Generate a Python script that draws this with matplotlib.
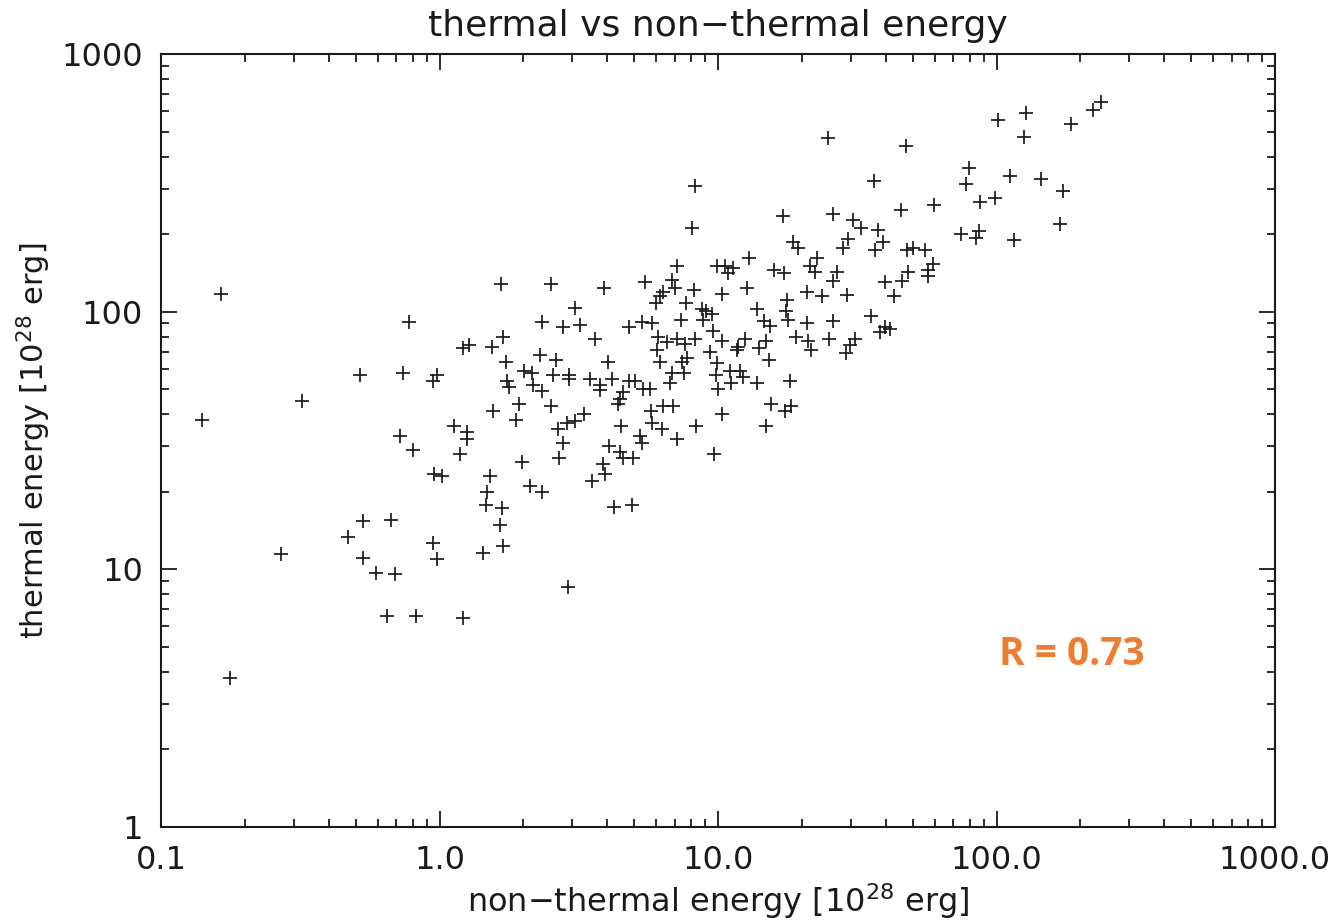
import numpy as np
import matplotlib.pyplot as plt
from matplotlib.ticker import FixedLocator, LogLocator, NullFormatter

# non-thermal energy [1e28 erg]
e_nonth = [
    0.164, 0.78, 0.52, 0.74, 0.98, 0.95, 0.32, 0.14, 0.72, 0.80, 0.955, 0.53,
    0.67, 0.47, 0.27, 0.53, 0.59, 0.69, 0.95, 0.98, 0.65, 0.82, 0.177,
    1.66, 2.51, 3.9, 3.07, 2.33, 2.78, 3.2, 3.62, 4.8, 1.69, 1.28, 1.21,
    1.54, 2.3, 2.62, 1.73, 4.03, 2.01, 2.15, 2.56, 2.92, 2.92, 3.47, 4.16,
    4.8, 1.75, 1.78, 2.17, 2.33, 3.77, 3.77, 4.56, 4.45, 4.38, 1.93, 2.51,
    1.56, 1.88, 3.3, 3.07, 2.87, 2.66, 1.13, 1.25, 1.25, 2.78, 4.49, 4.06,
    1.18, 2.69, 4.45, 4.56, 3.87, 3.93, 3.53, 1.98, 1.02, 1.52, 1.48, 2.11,
    2.33, 1.47, 1.68, 4.23, 1.65, 1.43, 1.69, 2.89, 1.21,
    8.3, 8.07, 17.1, 18.6, 19.4, 12.9, 22.7, 7.13, 9.92, 10.6, 11.3, 10.9,
    15.9, 17.3, 21.4, 22.3, 5.47, 6.84, 7.0, 6.35, 6.19, 5.99, 8.2, 10.3,
    12.7, 7.68, 17.7, 17.5, 17.8, 20.9, 8.76, 9.06, 9.52, 8.84, 7.36, 13.8,
    14.6, 15.4, 20.9, 5.34, 5.8, 9.6, 6.09, 7.13, 6.56, 7.61, 8.27, 10.3,
    12.5, 11.8, 11.7, 14.9, 14.0, 19.1, 21.1, 21.6, 6.04, 9.36, 7.74, 7.43,
    6.19, 9.92, 15.3,
    6.84, 7.55, 6.73, 5.04, 5.38, 5.7, 9.84, 11.0, 12.0, 12.3, 11.1, 10.0,
    13.8, 18.1, 15.5, 18.3, 17.4, 5.75, 6.35, 6.9, 10.3, 5.8, 6.3, 8.34,
    14.9, 5.25, 5.34, 7.13, 4.95, 9.67, 4.91,
    24.8, 47.3, 36.3, 101, 128, 126, 185, 222, 237, 79.7, 77.7, 112, 144,
    173, 87.3, 98.8, 169, 74.6, 86.6, 84.5, 116, 59.7, 45.4, 25.9, 30.5,
    32.6, 37.6, 29.3, 28.1, 39.1, 36.6, 47.7, 50.1, 55.4, 26.8, 25.9, 59.2,
    56.8, 56.8, 48.1, 45.8, 39.8,
    23.6, 29.1, 42.9, 35.4, 39.8, 38.2, 41.5, 25.9, 25.0, 31.0, 29.8, 28.8,
]

# thermal energy [1e28 erg]
e_th = [
    117, 91, 57, 58, 57, 54, 45, 38, 33, 29, 23.5, 15.4,
    15.5, 13.4, 11.5, 11.1, 9.7, 9.6, 12.7, 11.0, 6.6, 6.6, 3.8,
    128, 128, 123, 103, 91, 87, 89, 78, 87, 80, 74, 72,
    73, 68, 65, 64, 64, 59, 58, 57, 57, 55, 55, 55,
    54, 54, 51, 52, 49, 52, 49.6, 48.7, 46, 44, 44, 43,
    41, 38, 40, 37.5, 37, 35, 36, 34, 32, 31, 36, 30,
    28, 27, 28.6, 27, 25.7, 23.5, 22, 26, 23, 23, 20, 21,
    20, 17.8, 17.3, 17.5, 14.9, 11.6, 12.3, 8.5, 6.5,
    308, 211, 235, 186, 176, 162, 162, 151, 150, 150, 148, 141,
    145, 141, 151, 142, 130, 133, 124, 119, 115, 108, 121, 117,
    124, 108, 111, 101, 93, 119, 102, 101, 98, 93, 93, 102,
    92, 88, 90, 91, 90, 84, 80, 78, 76, 75, 78, 77,
    78, 73, 71, 77, 72, 80, 77, 71, 71, 70, 66, 64,
    64, 63, 65,
    58, 58, 53, 54, 50, 50, 57, 59, 59, 56, 53, 50,
    53, 54, 44, 43, 41, 41, 43, 43, 40, 37, 35, 36,
    36, 33, 31, 32, 27, 28, 17.8,
    470, 441, 322, 552, 588, 478, 537, 604, 649, 362, 313, 337, 328,
    294, 267, 276, 219, 200, 205, 193, 189, 259, 248, 239, 227,
    211, 207, 191, 176, 186, 173, 173, 176, 173, 142, 132, 153,
    145, 138, 143, 132, 130,
    115, 116, 115, 96, 87, 83, 86, 92, 78, 78, 74, 69,
]

x_ticks = [0.1, 1.0, 10.0, 100.0, 1000.0]
x_ticklabels = ['0.1', '1.0', '10.0', '100.0', '1000.0']
y_ticks = [1, 10, 100, 1000]
y_ticklabels = ['1', '10', '100', '1000']
r_coef = 0.73

plt.rcParams['font.family'] = ['DejaVu Sans']
ink = '#1a1a1a'

fig = plt.figure(figsize=(13.32, 9.21), dpi=100)
ax = fig.add_axes([0.1209, 0.1021, 0.8363, 0.8393])

ax.plot(e_nonth, e_th, linestyle='none', marker='+', markersize=10,
        markeredgewidth=1.25, color=ink)

ax.set_xscale('log')
ax.set_yscale('log')
ax.set_xlim(0.1, 1000)
ax.set_ylim(1, 1000)

ax.xaxis.set_major_locator(FixedLocator(x_ticks))
ax.set_xticklabels(x_ticklabels)
ax.yaxis.set_major_locator(FixedLocator(y_ticks))
ax.set_yticklabels(y_ticklabels)
ax.xaxis.set_minor_locator(LogLocator(base=10, subs=np.arange(2, 10)))
ax.yaxis.set_minor_locator(LogLocator(base=10, subs=np.arange(2, 10)))
ax.xaxis.set_minor_formatter(NullFormatter())
ax.yaxis.set_minor_formatter(NullFormatter())

ax.tick_params(which='both', direction='in', top=True, right=True,
               colors=ink, labelsize=23, width=1.3)
ax.tick_params(which='major', length=11.5, pad=13)
ax.tick_params(which='minor', length=5.8)
for s in ax.spines.values():
    s.set_linewidth(1.5)
    s.set_color(ink)

ax.set_title('thermal vs non\u2212thermal energy', fontsize=26, color=ink, pad=13)
ax.set_xlabel('non\u2212thermal energy [10$^{28}$ erg]', fontsize=23, color=ink,
              labelpad=4)
ax.set_ylabel('thermal energy [10$^{28}$ erg]', fontsize=22, color=ink,
              labelpad=6)

ax.text(0.818, 0.223, f'R = {r_coef:.2f}', transform=ax.transAxes,
        ha='center', va='center', fontsize=28, fontweight='bold',
        color='#ED7D31', family=['Open Sans', 'DejaVu Sans'])

fig.savefig('out.png', dpi=100)
